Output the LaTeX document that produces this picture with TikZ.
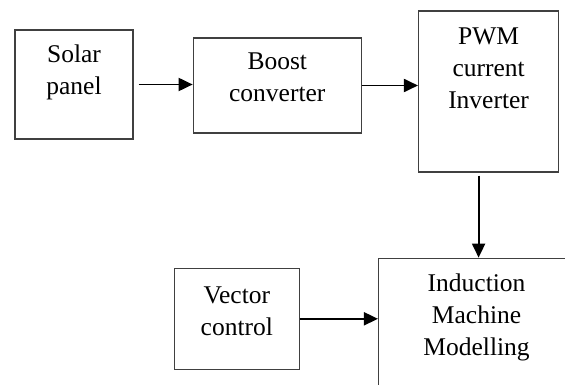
\documentclass[tikz,border=0pt]{standalone}
\usepackage{fontspec}
\setmainfont{Liberation Serif}
\usetikzlibrary{arrows.meta, positioning}

\begin{document}
\begin{tikzpicture}[x=1pt, y=-1pt,
  block/.style={rectangle, draw=black!75, line width=1.3pt, inner sep=0pt, text centered, align=center, font=\fontsize{25.5}{32}\selectfont},
  arrow/.style={line width=1.9pt, -{Triangle[length=14pt, width=13pt]}}]

  \path[use as bounding box, clip] (0,0) rectangle (565,385);

  % Nodes
  \node (solar) [block, minimum width=118pt, text height=65pt, text depth=44pt] at (74,84.5) {Solar\\panel};
  \node (boost) [block, right=59pt of solar, yshift=-1pt, minimum width=168pt, text height=64pt, text depth=31pt] {Boost\\converter};
  \node (pwm) [block, right=56pt of boost, yshift=-6pt, minimum width=140pt, text height=98pt, text depth=63pt] {PWM\\current\\Inverter};
  \node (ind) [block, below=85pt of pwm, xshift=-12pt, minimum width=196pt, text height=97pt, text depth=53pt] {Induction\\Machine\\Modelling};
  \node (vec) [block, left=78pt of ind, yshift=14.5pt, minimum width=125pt, text height=67pt, text depth=34pt] {Vector\\control};
  \coordinate (tap) at ([xshift=-10pt, yshift=-3pt]pwm.south);

  % Arrows
  \draw [arrow] ([xshift=5pt]solar.east) -- (solar.east -| boost.west);
  \draw [arrow] (boost.east) -- (boost.east -| pwm.west);
  \draw [arrow] (tap) -- (tap |- ind.north);
  \draw [arrow] (vec.east) -- (vec.east -| ind.west);

\end{tikzpicture}
\end{document}
